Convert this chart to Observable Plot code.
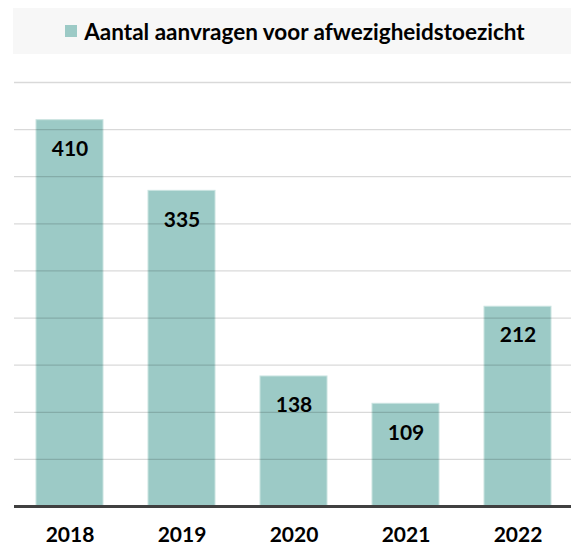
<!DOCTYPE html>
<html>
<head>
<meta charset="utf-8">
<script src="https://cdn.jsdelivr.net/npm/d3@7"></script>
<script src="https://cdn.jsdelivr.net/npm/@observablehq/plot@0.6"></script>
<style>
  html, body { margin: 0; padding: 0; background: #fff; }
  body { width: 571px; height: 547px; overflow: hidden; font-family: Lato, "Open Sans", sans-serif; }
  #legend {
    margin: 8px 0 0 13px; height: 46px; background: #f7f7f7;
    display: flex; align-items: center; justify-content: center;
    font-weight: bold; font-size: 22.5px; color: #000;
  }
  #legend .sw { width: 12px; height: 12px; background: #9ccac6; margin-right: 7px; margin-left: 6px; }
  #chart svg { display: block; }
</style>
</head>
<body>
<div id="legend"><span class="sw"></span><span>Aantal aanvragen voor afwezigheidstoezicht</span></div>
<div id="chart"></div>
<script>
const years = ["2018", "2019", "2020", "2021", "2022"];
const counts = [410, 335, 138, 109, 212];
const gridTicks = [50, 100, 150, 200, 250, 300, 350, 400, 450];

const data = years.map((y, i) => ({year: y, count: counts[i]}));

const chart = Plot.plot({
  width: 571,
  height: 493,
  marginTop: 0,
  marginBottom: 41,
  marginLeft: 14,
  marginRight: 0,
  style: {fontFamily: "Lato, 'Open Sans', sans-serif", background: "transparent"},
  x: {domain: years, range: [13.5, 573.5], paddingInner: 0.4, paddingOuter: 0.2, axis: null},
  y: {domain: [0, 450], range: [452, 28], axis: null},
  marks: [
    Plot.barY(data, {x: "year", y: "count", fill: "#9ccac6", stroke: "#c9e3e0", strokeWidth: 1}),
    Plot.ruleY(gridTicks, {stroke: "#000", strokeOpacity: 0.15, strokeWidth: 1.3}),
    Plot.ruleY([0], {stroke: "#404040", strokeWidth: 3}),
    Plot.text(data, {x: "year", y: "count", text: d => String(d.count), dy: 29, fontSize: 21, fontWeight: "bold", fill: "#000"}),
    Plot.text(years, {x: d => d, y: 0, text: d => d, dy: 29, fontSize: 21, fontWeight: "bold", fill: "#000"})
  ]
});
document.getElementById("chart").appendChild(chart);
</script>
</body>
</html>
